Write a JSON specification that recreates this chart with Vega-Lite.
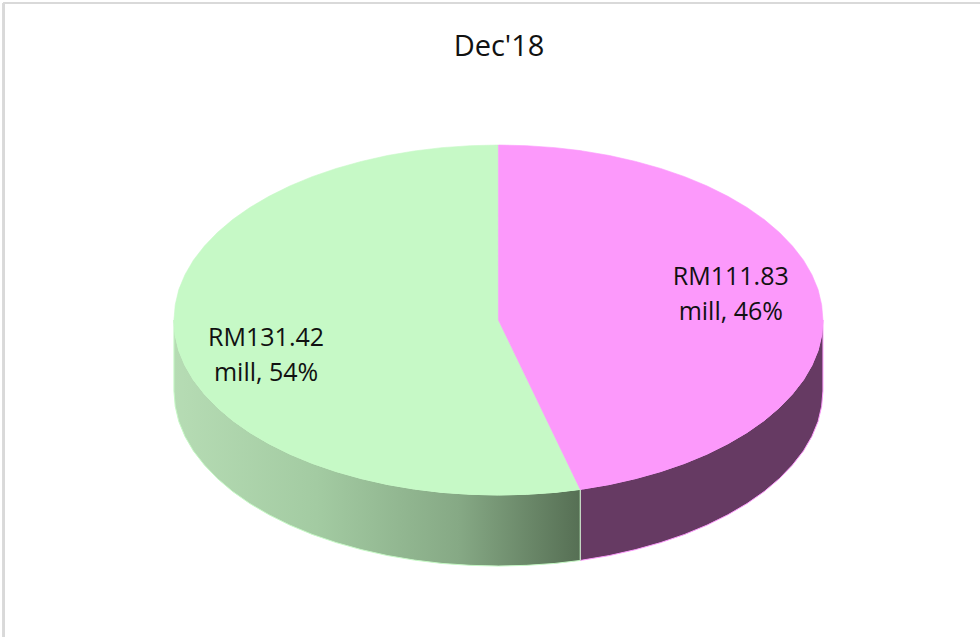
{"$schema":"https://vega.github.io/schema/vega-lite/v6.json","width":980,"height":637,"autosize":{"type":"none"},"padding":0,"background":"white","view":{"stroke":null},
"title":{"text":"Dec'18","font":"Open Sans","fontSize":29,"fontWeight":"normal","color":"#111111","anchor":"middle","frame":"group","offset":-62,"dx":9},
"data":{"values":[
{"part":"side","slice":"a","x":25.2,"v":-96.8,"v2":-137.4},{"part":"side","slice":"a","x":25.9,"v":-96.6,"v2":-137.2},{"part":"side","slice":"a","x":34.2,"v":-94,"v2":-134.6},{"part":"side","slice":"a","x":42.3,"v":-90.6,"v2":-131.2},{"part":"side","slice":"a","x":50,"v":-86.6,"v2":-127.2},{"part":"side","slice":"a","x":57.4,"v":-81.9,"v2":-122.5},{"part":"side","slice":"a","x":64.3,"v":-76.6,"v2":-117.2},{"part":"side","slice":"a","x":70.7,"v":-70.7,"v2":-111.3},{"part":"side","slice":"a","x":76.6,"v":-64.3,"v2":-104.9},{"part":"side","slice":"a","x":81.9,"v":-57.4,"v2":-98},{"part":"side","slice":"a","x":86.6,"v":-50,"v2":-90.6},{"part":"side","slice":"a","x":90.6,"v":-42.3,"v2":-82.9},{"part":"side","slice":"a","x":94,"v":-34.2,"v2":-74.8},{"part":"side","slice":"a","x":96.6,"v":-25.9,"v2":-66.5},{"part":"side","slice":"a","x":98.5,"v":-17.4,"v2":-58},{"part":"side","slice":"a","x":99.6,"v":-8.7,"v2":-49.3},{"part":"side","slice":"a","x":100,"v":0,"v2":-40.6},
{"part":"side","slice":"b","x":-100,"v":0,"v2":-40.6},{"part":"side","slice":"b","x":-99.6,"v":-8.7,"v2":-49.3},{"part":"side","slice":"b","x":-98.5,"v":-17.4,"v2":-58},{"part":"side","slice":"b","x":-96.6,"v":-25.9,"v2":-66.5},{"part":"side","slice":"b","x":-94,"v":-34.2,"v2":-74.8},{"part":"side","slice":"b","x":-90.6,"v":-42.3,"v2":-82.9},{"part":"side","slice":"b","x":-86.6,"v":-50,"v2":-90.6},{"part":"side","slice":"b","x":-81.9,"v":-57.4,"v2":-98},{"part":"side","slice":"b","x":-76.6,"v":-64.3,"v2":-104.9},{"part":"side","slice":"b","x":-70.7,"v":-70.7,"v2":-111.3},{"part":"side","slice":"b","x":-64.3,"v":-76.6,"v2":-117.2},{"part":"side","slice":"b","x":-57.4,"v":-81.9,"v2":-122.5},{"part":"side","slice":"b","x":-50,"v":-86.6,"v2":-127.2},{"part":"side","slice":"b","x":-42.3,"v":-90.6,"v2":-131.2},{"part":"side","slice":"b","x":-34.2,"v":-94,"v2":-134.6},{"part":"side","slice":"b","x":-25.9,"v":-96.6,"v2":-137.2},{"part":"side","slice":"b","x":-17.4,"v":-98.5,"v2":-139.1},{"part":"side","slice":"b","x":-8.7,"v":-99.6,"v2":-140.2},{"part":"side","slice":"b","x":0,"v":-100,"v2":-140.6},{"part":"side","slice":"b","x":8.7,"v":-99.6,"v2":-140.2},{"part":"side","slice":"b","x":17.4,"v":-98.5,"v2":-139.1},{"part":"side","slice":"b","x":25.2,"v":-96.8,"v2":-137.4},
{"part":"top","slice":"b","x":-100,"v":0,"v2":0},{"part":"top","slice":"b","x":-99.6,"v":8.7,"v2":-8.7},{"part":"top","slice":"b","x":-98.5,"v":17.4,"v2":-17.4},{"part":"top","slice":"b","x":-96.6,"v":25.9,"v2":-25.9},{"part":"top","slice":"b","x":-94,"v":34.2,"v2":-34.2},{"part":"top","slice":"b","x":-90.6,"v":42.3,"v2":-42.3},{"part":"top","slice":"b","x":-86.6,"v":50,"v2":-50},{"part":"top","slice":"b","x":-81.9,"v":57.4,"v2":-57.4},{"part":"top","slice":"b","x":-76.6,"v":64.3,"v2":-64.3},{"part":"top","slice":"b","x":-70.7,"v":70.7,"v2":-70.7},{"part":"top","slice":"b","x":-64.3,"v":76.6,"v2":-76.6},{"part":"top","slice":"b","x":-57.4,"v":81.9,"v2":-81.9},{"part":"top","slice":"b","x":-50,"v":86.6,"v2":-86.6},{"part":"top","slice":"b","x":-42.3,"v":90.6,"v2":-90.6},{"part":"top","slice":"b","x":-34.2,"v":94,"v2":-94},{"part":"top","slice":"b","x":-25.9,"v":96.6,"v2":-96.6},{"part":"top","slice":"b","x":-17.4,"v":98.5,"v2":-98.5},{"part":"top","slice":"b","x":-8.7,"v":99.6,"v2":-99.6},{"part":"top","slice":"b","x":-0.05,"v":100,"v2":-100},{"part":"top","slice":"b","x":0,"v":0,"v2":-100},{"part":"top","slice":"b","x":8.7,"v":-33.4,"v2":-99.6},{"part":"top","slice":"b","x":17.4,"v":-66.8,"v2":-98.5},{"part":"top","slice":"b","x":25.2,"v":-96.8,"v2":-96.8},
{"part":"top","slice":"a","x":0,"v":100,"v2":0},{"part":"top","slice":"a","x":8.7,"v":99.6,"v2":-33.4},{"part":"top","slice":"a","x":17.4,"v":98.5,"v2":-66.8},{"part":"top","slice":"a","x":25.2,"v":96.8,"v2":-96.8},{"part":"top","slice":"a","x":25.9,"v":96.6,"v2":-96.6},{"part":"top","slice":"a","x":34.2,"v":94,"v2":-94},{"part":"top","slice":"a","x":42.3,"v":90.6,"v2":-90.6},{"part":"top","slice":"a","x":50,"v":86.6,"v2":-86.6},{"part":"top","slice":"a","x":57.4,"v":81.9,"v2":-81.9},{"part":"top","slice":"a","x":64.3,"v":76.6,"v2":-76.6},{"part":"top","slice":"a","x":70.7,"v":70.7,"v2":-70.7},{"part":"top","slice":"a","x":76.6,"v":64.3,"v2":-64.3},{"part":"top","slice":"a","x":81.9,"v":57.4,"v2":-57.4},{"part":"top","slice":"a","x":86.6,"v":50,"v2":-50},{"part":"top","slice":"a","x":90.6,"v":42.3,"v2":-42.3},{"part":"top","slice":"a","x":94,"v":34.2,"v2":-34.2},{"part":"top","slice":"a","x":96.6,"v":25.9,"v2":-25.9},{"part":"top","slice":"a","x":98.5,"v":17.4,"v2":-17.4},{"part":"top","slice":"a","x":99.6,"v":8.7,"v2":-8.7},{"part":"top","slice":"a","x":100,"v":0,"v2":0},
{"part":"label","slice":"a","x":71.6,"v":24.6,"label":"RM111.83\nmill, 46%","amount":111.83,"share":46},
{"part":"label","slice":"b","x":-71.6,"v":-10.3,"label":"RM131.42\nmill, 54%","amount":131.42,"share":54}
]},
"encoding":{
"x":{"field":"x","type":"quantitative","scale":{"domain":[-153.6,148.4],"nice":false,"zero":false},"axis":null},
"y":{"field":"v","type":"quantitative","scale":{"domain":[-181.14,182.86],"nice":false,"zero":false},"axis":null}
},
"layer":[
{"mark":{"type":"rule","color":"#d9d9d9","strokeWidth":2},"encoding":{"x":{"datum":-152.4},"y":{"datum":-181.14},"y2":{"datum":181.14}}},
{"mark":{"type":"rule","color":"#d9d9d9","strokeWidth":2},"encoding":{"y":{"datum":181.14},"x":{"datum":-152.4},"x2":{"datum":148.4}}},
{"transform":[{"filter":"datum.part==='side'&&datum.slice==='a'"}],"mark":{"type":"area","color":"#663a63","stroke":"#fc99fb","strokeWidth":1},"encoding":{"y2":{"field":"v2"}}},
{"transform":[{"filter":"datum.part==='side'&&datum.slice==='b'"}],"mark":{"type":"area","stroke":"#c6f9c6","strokeWidth":1,"color":{"gradient":"linear","x1":0,"y1":0,"x2":1,"y2":0,"stops":[{"offset":0,"color":"#b6dcb4"},{"offset":0.35,"color":"#a3cba2"},{"offset":0.7,"color":"#86a985"},{"offset":1,"color":"#566f54"}]}},"encoding":{"y2":{"field":"v2"}}},
{"transform":[{"filter":"datum.part==='top'&&datum.slice==='b'"}],"mark":{"type":"area","color":"#c6f9c6","stroke":"#c6f9c6","strokeWidth":0.6},"encoding":{"y2":{"field":"v2"}}},
{"transform":[{"filter":"datum.part==='top'&&datum.slice==='a'"}],"mark":{"type":"area","color":"#fc99fb","stroke":"#fc99fb","strokeWidth":0.6},"encoding":{"y2":{"field":"v2"}}},
{"transform":[{"filter":"datum.part==='label'"}],"mark":{"type":"text","font":"Open Sans","fontSize":25,"color":"#111111","lineBreak":"\n","lineHeight":35,"align":"center","baseline":"middle"},"encoding":{"text":{"field":"label"}}}
]}
